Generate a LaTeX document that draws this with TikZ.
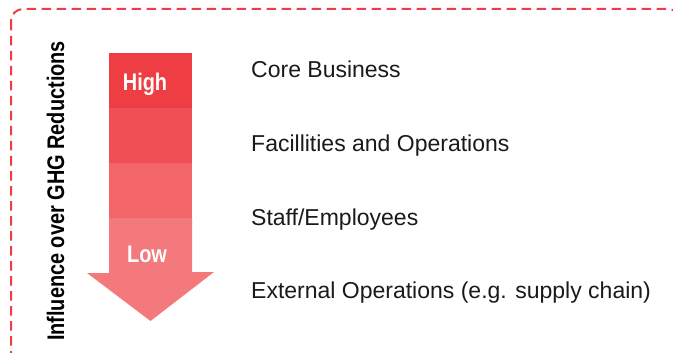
\documentclass[tikz,border=0pt]{standalone}
\usepackage{fontspec}
\setmainfont{Liberation Sans}
\newfontfamily\condfont{Liberation Sans}[FakeStretch=0.83]
\usetikzlibrary{positioning}
\definecolor{frameRed}{HTML}{EE3D45}
\definecolor{bandA}{HTML}{EE3D43}
\definecolor{bandB}{HTML}{F04F55}
\definecolor{bandC}{HTML}{F2666A}
\definecolor{bandD}{HTML}{F4797C}
\definecolor{labelGray}{HTML}{1A1A1A}

\begin{document}
\begin{tikzpicture}[x=1pt, y=-1pt,
    band/.style={shape=rectangle, minimum width=83pt, minimum height=55pt, inner sep=0pt, outer sep=0pt},
    level/.style={anchor=base west, inner sep=0pt, text=labelGray, font=\fontsize{23}{27}\selectfont},
    tag/.style={anchor=base, inner sep=0pt, text=white, font=\condfont\bfseries\fontsize{24}{28}\selectfont}]
    \useasboundingbox (0,0) rectangle (673,353);
    \draw[frameRed, line width=2pt, dash pattern=on 9.5pt off 5.5pt, rounded corners=12pt] (11,9) rectangle (680,364);
    % arrow
    \node[band, fill=bandA] (b1) at (150.5,80.5) {};
    \node[band, fill=bandB, below=0pt of b1] (b2) {};
    \node[band, fill=bandC, below=0pt of b2] (b3) {};
    \coordinate (tip) at (150.5,321);
    \fill[bandD] (b3.south west) -- ++(0,55) -- ++(-22,0) -- (tip) -- (214,272) -- ++(-22,0) -- (b3.south east) -- cycle;
    \node[tag] (high) at (145,91) {High};
    \node[tag] (low) at (147,262) {Low};
    \node[tag, text=black, rotate=90] (axis) at (64,191) {Influence over GHG Reductions};
    % levels
    \node[level] (core) at (251,77.5) {Core Business};
    \node[level] (fac) at (251,151.5) {Facillities and Operations};
    \node[level] (staff) at (251,225) {Staff/Employees};
    \node[level] (ext) at (251,298.5) {External Operations (e.g. supply chain)};
\end{tikzpicture}
\end{document}
